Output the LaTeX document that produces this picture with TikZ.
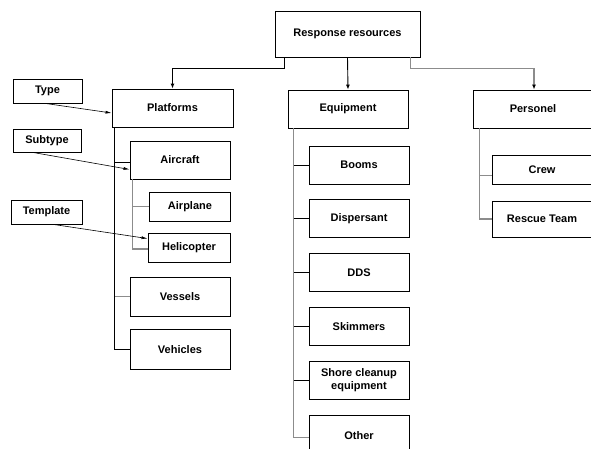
\documentclass[tikz,border=0pt]{standalone}
\usepackage{fontspec}
\setmainfont{Liberation Sans}
\usetikzlibrary{arrows.meta,positioning}

\begin{document}
\begin{tikzpicture}[x=1pt,y=-1pt,>={Latex[length=5pt,width=4pt]},node distance=15pt,
 box/.style={draw,line width=0.9pt,minimum width=100pt,minimum height=38pt,inner sep=2pt,align=center,
  font=\bfseries\fontsize{11}{13}\selectfont},
 tag/.style={box,minimum width=69pt,minimum height=24pt},
 link/.style={line width=0.9pt},
 glink/.style={line width=1.1pt,draw=black!45},
 note/.style={->,line width=0.6pt,>={Latex[length=6pt,width=3pt]}}]
\useasboundingbox (0,0) rectangle (591,448);
\clip (0,0) rectangle (591,448);
% top level
\node[box,minimum width=145pt,minimum height=46pt] (res) at (347.5,34) {Response resources};
\node[box,minimum width=121pt] (plat) at (172.5,108) {Platforms};
\node[box,minimum width=120pt] (equip) at (348,109) {Equipment};
\node[box,minimum width=120pt] (pers) at (533,109) {Personel};
% platforms
\node[box] (aircraft) at (180,160) {Aircraft};
\node[box,minimum width=81pt,minimum height=29pt] (airplane) at (190,206.5) {Airplane};
\node[box,minimum width=82pt,minimum height=29pt] (heli) at (189,247.5) {Helicopter};
\node[box,minimum height=39pt] (vessels) at (180,296.5) {Vessels};
\node[box,minimum height=40pt,below=13pt of vessels] (vehic) {Vehicles};
% equipment
\node[box] (booms) at (359,165) {Booms};
\node[box,below=of booms] (disp) {Dispersant};
\node[box,below=of disp] (dds) {DDS};
\node[box,below=of dds] (skim) {Skimmers};
\node[box,below=of skim] (shore) {Shore cleanup\\equipment};
\node[box,minimum height=40pt,below=of shore] (other) {Other};
% personel
\node[box,minimum height=29pt] (crew) at (542,169.5) {Crew};
\node[box,minimum height=36pt] (rescue) at (542,219) {Rescue Team};
% labels on the left
\node[tag] (type) at (47.5,91) {Type};
\node[tag,minimum width=68pt,minimum height=23pt] (subtype) at (47,140.5) {Subtype};
\node[tag,minimum width=71pt] (templ) at (46.5,212) {Template};

% arrows from the root
\draw[link,->] ([xshift=-63.5pt]res.south) -- ++(0,11) -| (plat.north);
\draw[link,->] (res.south) -- (equip.north);
\draw[glink,-{Latex[length=5pt,width=4pt,black]}] ([xshift=63pt]res.south) -- ++(0,11) -| ([xshift=1pt]pers.north);

% platforms tree
\coordinate (pt) at ([xshift=3pt]plat.south west);
\draw[link] (pt) |- (vehic.west);
\draw[link] ([yshift=-2pt]aircraft.west) -- ([yshift=-2pt]aircraft.west -| pt);
\draw[glink] (vessels.west) -- (vessels.west -| pt);
\coordinate (at) at ([xshift=3pt]aircraft.south west);
\draw[glink] (at) |- ([yshift=-1.5pt]heli.west);
\draw[glink] (airplane.west) -- (airplane.west -| at);

% equipment tree
\coordinate (et) at ([xshift=6pt]equip.south west);
\draw[glink] (et) |- ([yshift=-2pt]other.west);
\foreach \n in {booms,disp,dds,skim,shore}
  \draw[link] (\n.west) -- (\n.west -| et);

% personel tree
\coordinate (rt) at ([xshift=7pt]pers.south west);
\draw[glink] (rt) |- (rescue.west);
\draw[glink] ([yshift=-6pt]crew.west) -- ([yshift=-6pt]crew.west -| rt);

% annotations
\draw[note] ([xshift=-2pt]type.south) -- ([yshift=-5pt]plat.west);
\draw[note] ([xshift=-14pt]subtype.south) -- ([yshift=10pt]aircraft.south west);
\draw[note] ([xshift=7pt]templ.south) -- ([yshift=-6pt]heli.north west);
\end{tikzpicture}
\end{document}
